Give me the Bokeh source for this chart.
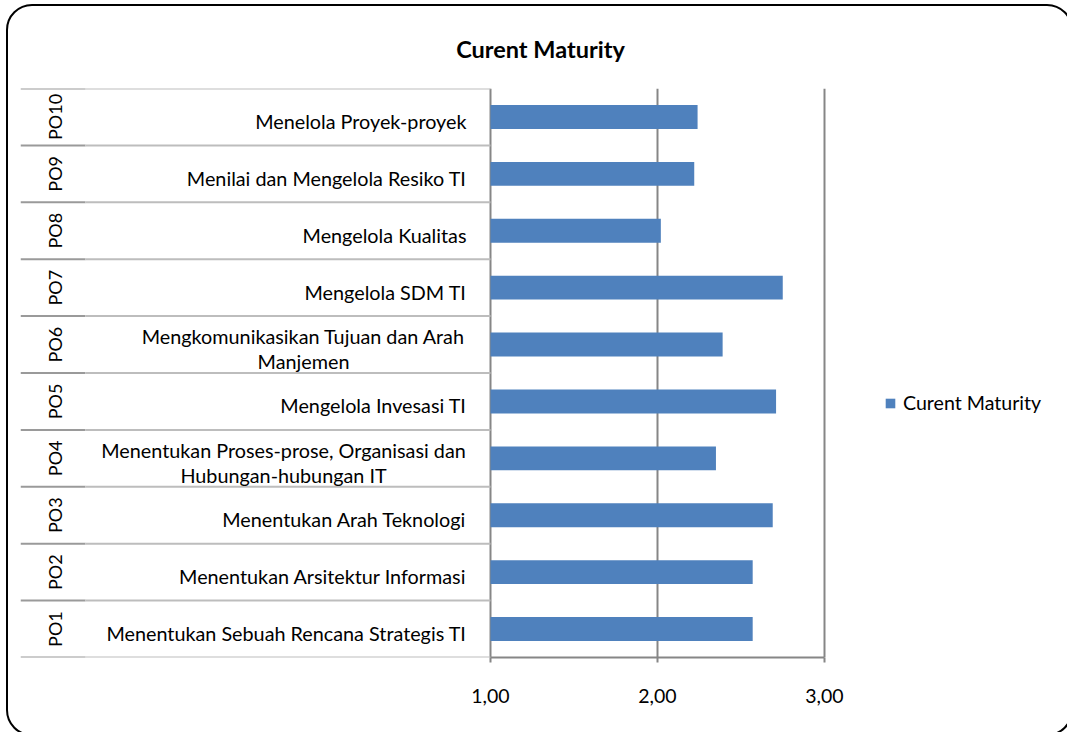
import math
from bokeh.plotting import figure
from bokeh.models import (ColumnDataSource, Range1d, FixedTicker,
                          Legend, LegendItem, InlineStyleSheet)
from bokeh.core.properties import value
from bokeh.embed import file_html
from bokeh.resources import INLINE

# ---------------- data ----------------
codes = ["PO1", "PO2", "PO3", "PO4", "PO5", "PO6", "PO7", "PO8", "PO9", "PO10"]
names = [
    "Menentukan Sebuah Rencana Strategis TI",
    "Menentukan Arsitektur Informasi",
    "Menentukan Arah Teknologi",
    "Menentukan Proses-prose, Organisasi dan\nHubungan-hubungan IT",
    "Mengelola Invesasi TI",
    "Mengkomunikasikan Tujuan dan Arah\nManjemen",
    "Mengelola SDM TI",
    "Mengelola Kualitas",
    "Menilai dan Mengelola Resiko TI",
    "Menelola Proyek-proyek",
]
maturity = [2.57, 2.57, 2.69, 2.35, 2.71, 2.39, 2.75, 2.02, 2.22, 2.24]
x_ticks = [1, 2, 3]
x_tick_labels = ["1,00", "2,00", "3,00"]
series_name = "Curent Maturity"
title_text = "Curent Maturity"

# ---------------- geometry / style ----------------
W, H = 1067, 732
FRAME_L, FRAME_R, FRAME_T, FRAME_B = 20, 1060, 88, 657
AXIS_PX, MAX_PX = 490, 824
unit = (MAX_PX - AXIS_PX) / (x_ticks[-1] - x_ticks[0])
x_start = x_ticks[0] - (AXIS_PX - FRAME_L) / unit
x_end = x_ticks[-1] + (FRAME_R - MAX_PX) / unit


def px2x(px):
    return x_ticks[0] + (px - AXIS_PX) / unit


FONT = "Lato"
FS_NAME = "19.8px"
FS_CODE = "18px"
FS_TICK = "19.5px"
FS_LEG = "19.6px"
FS_TITLE = "23.5px"
GRID = "#868686"
BAR = "#4f81bd"
WRAP_CENTER_PX = {"PO4": 283, "PO6": 303}

n = len(codes)
ys = list(range(1, n + 1))

p = figure(width=W, height=H,
           x_range=Range1d(x_start, x_end), y_range=Range1d(0.5, n + 0.5),
           output_backend="svg", toolbar_location=None, y_axis_location=None,
           min_border_left=FRAME_L, min_border_right=W - FRAME_R,
           min_border_top=FRAME_T, min_border_bottom=H - FRAME_B,
           title=title_text)
p.title.align = "center"
p.title.text_font = FONT
p.title.text_font_size = FS_TITLE
p.title.text_font_style = "bold"
p.title.text_color = "black"
p.title.standoff = 51
p.outline_line_color = None
p.background_fill_color = "white"
p.border_fill_color = "white"

# rounded chart border (partly beyond the window, like the reference)
p.stylesheets = [InlineStyleSheet(css="""
:host { position: relative; overflow: hidden; }
:host::after {
  content: ""; position: absolute; left: 6px; top: 4px;
  width: 1067px; height: 732px; box-sizing: border-box;
  border: 2.5px solid #000; border-radius: 26px; pointer-events: none;
}
""")]

# grid
p.ygrid.visible = False
p.xgrid.ticker = FixedTicker(ticks=x_ticks)
p.xgrid.bounds = (x_ticks[0], x_ticks[-1])
p.xgrid.grid_line_color = GRID
p.xgrid.grid_line_width = 2

# x axis
ax = p.xaxis[0]
ax.ticker = FixedTicker(ticks=x_ticks)
ax.bounds = (x_ticks[0], x_ticks[-1])
ax.major_label_overrides = {t: l for t, l in zip(x_ticks, x_tick_labels)}
ax.axis_line_color = GRID
ax.axis_line_width = 2
ax.major_tick_line_color = GRID
ax.major_tick_line_width = 2
ax.major_tick_out = 5
ax.major_tick_in = 0
ax.minor_tick_out = 0
ax.minor_tick_in = 0
ax.major_label_text_font = FONT
ax.major_label_text_font_size = FS_TICK
ax.major_label_text_color = "black"
ax.major_label_standoff = 26

# separators
bounds_y = [k + 0.5 for k in range(n + 1)]
p.segment(x0=px2x(FRAME_L), x1=px2x(85), y0=bounds_y, y1=bounds_y,
          line_color="#9a9a9a", line_width=2)
p.segment(x0=px2x(85), x1=x_ticks[0], y0=bounds_y, y1=bounds_y,
          line_color="#bdbdbd", line_width=2)

# bars
src = ColumnDataSource(dict(y=ys, v=maturity))
r = p.hbar(y="y", left=x_ticks[0], right="v", height=0.42, source=src,
           fill_color=BAR, line_color=None)

# category labels (single line)
s_idx = [i for i, nm in enumerate(names) if "\n" not in nm]
p.text(x=x_ticks[0], y=[ys[i] for i in s_idx], text=[names[i] for i in s_idx],
       x_offset=-24, y_offset=4, text_align="right", text_baseline="middle",
       text_font=value(FONT), text_font_size=FS_NAME, text_color="black")

# wrapped labels (lines centred, Excel style)
for i, nm in enumerate(names):
    if "\n" not in nm:
        continue
    lines = nm.split("\n")
    cx = px2x(WRAP_CENTER_PX[codes[i]])
    offs = [-8.5, 16.5]
    for ln, off in zip(lines, offs):
        p.text(x=[cx], y=[ys[i]], text=[ln], y_offset=off,
               text_align="center", text_baseline="middle",
               text_font=value(FONT), text_font_size=FS_NAME, text_color="black")

# group codes (rotated)
p.text(x=px2x(54), y=ys, text=codes, angle=math.pi / 2,
       text_align="center", text_baseline="middle",
       text_font=value(FONT), text_font_size=FS_CODE, text_color="black")

# legend
legend = Legend(items=[LegendItem(label=series_name, renderers=[r])],
                location=(864, 243), orientation="vertical",
                glyph_width=12, glyph_height=12, label_standoff=7,
                padding=0, margin=0, border_line_color=None,
                background_fill_alpha=0,
                label_text_font=FONT, label_text_font_size=FS_LEG,
                label_text_color="black")
p.add_layout(legend, "center")

open("out.html", "w").write(file_html(p, INLINE))
